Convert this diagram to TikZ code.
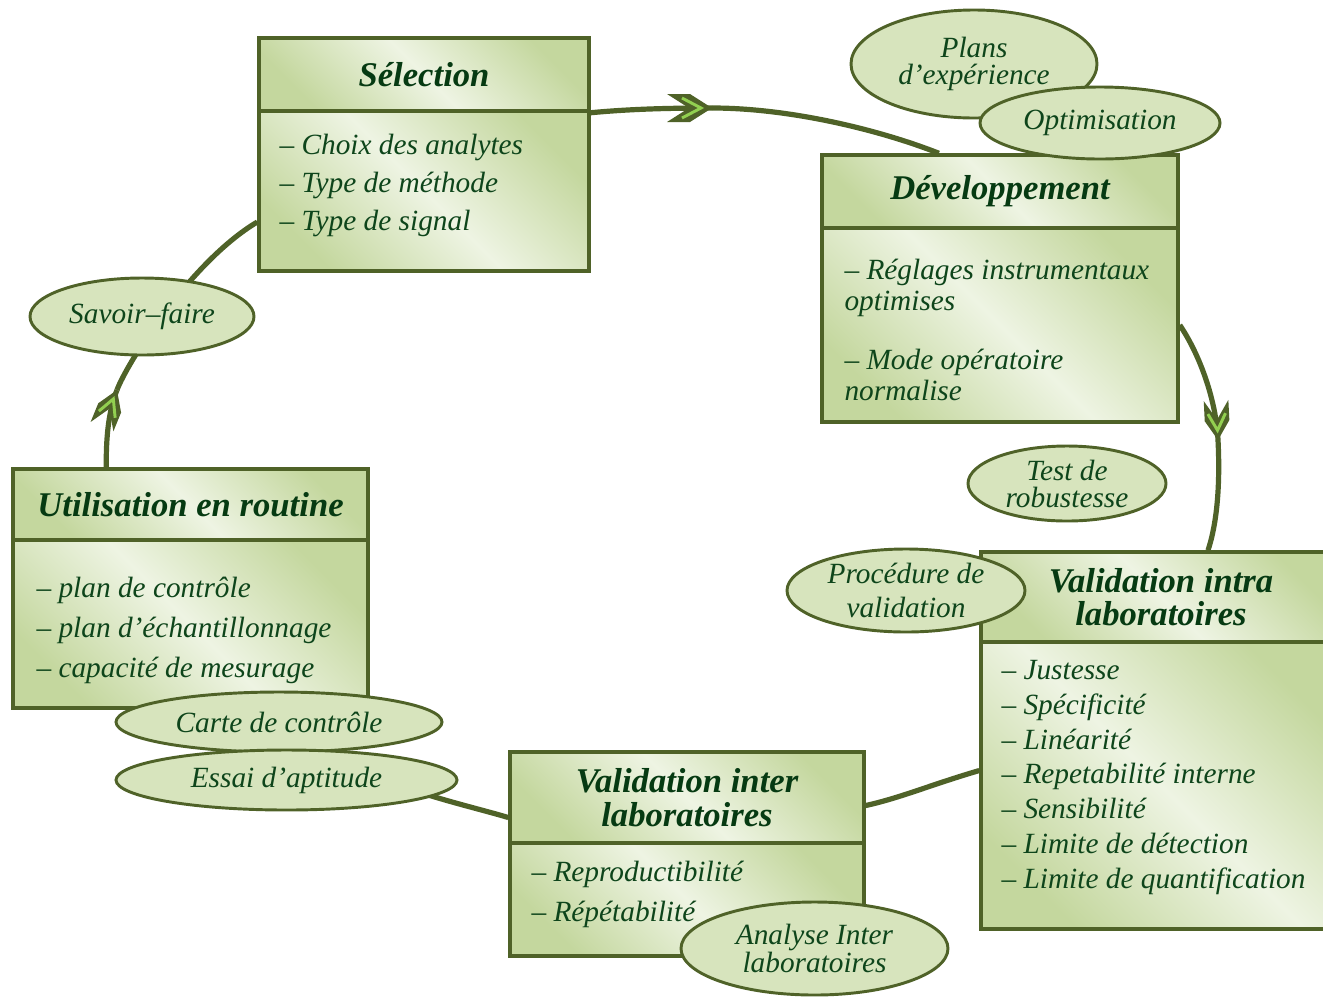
\documentclass[tikz,border=0pt]{standalone}
\usepackage{fontspec}
\setmainfont{Liberation Serif}
\usetikzlibrary{shapes.geometric,calc,decorations.markings}
\pgfdeclarelayer{bg}
\pgfsetlayers{bg,main}
\definecolor{boxline}{HTML}{4F6228}
\definecolor{gdark}{HTML}{C4D79E}
\definecolor{glight}{HTML}{EEF4E3}
\definecolor{ovalfill}{HTML}{D7E4BD}
\definecolor{txtgreen}{HTML}{0E451B}
\definecolor{ttlgreen}{HTML}{063A12}
\definecolor{chevgreen}{HTML}{92D050}
\pgfdeclarehorizontalshading{boxshade}{100bp}{color(0bp)=(gdark); color(25bp)=(gdark); color(50bp)=(glight); color(75bp)=(gdark); color(100bp)=(gdark)}
\newcommand\chevron[1]{\begin{scope}[scale=#1]
  \fill[boxline] (0,0) -- (-22,-14) -- (-45,-14) -- (-23,0) -- (-45,14) -- (-22,14) -- cycle;
  \draw[chevgreen, line width=2.2pt, line join=miter] (-30,-10) -- (-11,0) -- (-30,10);
\end{scope}}
\tikzset{
  part/.style={rectangle, draw=boxline, line width=2.6pt, shading=boxshade, shading angle=45, inner sep=0pt},
  ttl/.style={font=\fontsize{26}{25}\selectfont\bfseries\itshape, text=ttlgreen, align=center},
  bodytxt/.style={text=txtgreen, align=left, anchor=west, inner sep=0pt},
  oval/.style={ellipse, draw=boxline, line width=2.2pt, fill=ovalfill, inner sep=0pt},
  ovaltxt/.style={font=\fontsize{22}{20.25}\selectfont\itshape, text=txtgreen, align=center, inner sep=0pt},
  link/.style={draw=boxline, line width=3.9pt},
  chevbig/.style={postaction={decorate, decoration={markings, mark=at position 1 with {\chevron{1}}}}},
  chevsmall/.style={postaction={decorate, decoration={markings, mark=at position 1 with {\chevron{0.88}}}}}
}
\begin{document}
\begin{tikzpicture}[x=0.75pt, y=-0.75pt]
\useasboundingbox (0,0) rectangle (1323,997);

% ---- boxes ----
\node[part, ttl, minimum width=247.5pt, minimum height=54.75pt] (selT) at (424,74.5) {Sélection};
\node[part, minimum width=247.5pt, minimum height=120pt] (selB) at (424,191) {};
\node[part, ttl, minimum width=267pt, minimum height=54.75pt] (devT) at (1000,191.5) {Développement};
\node[part, minimum width=267pt, minimum height=145.5pt] (devB) at (1000,325) {};
\node[part, ttl, minimum width=270pt, minimum height=67.5pt] (intraT) at (1161,597) {Validation intra\\laboratoires};
\node[part, minimum width=270pt, minimum height=215.25pt] (intraB) at (1161,785.5) {};
\node[part, ttl, minimum width=265.5pt, minimum height=68.25pt] (interT) at (687,797.5) {Validation inter\\laboratoires};
\node[part, minimum width=265.5pt, minimum height=84.75pt] (interB) at (687,899.5) {};
\node[part, ttl, minimum width=266.25pt, minimum height=53.25pt] (utilT) at (190.5,504.5) {Utilisation en routine};
\node[part, minimum width=266.25pt, minimum height=126pt] (utilB) at (190.5,624) {};

% ---- body texts ----
\node[bodytxt, font=\fontsize{22}{28.5}\selectfont\itshape] (selTx) at ($(selB.west)+(22,-6)$)
  {– Choix des analytes\\– Type de méthode\\– Type de signal};
\node[bodytxt, font=\fontsize{22}{23.25}\selectfont\itshape] (devTx) at ($(devB.west)+(24,5)$)
  {– Réglages instrumentaux\\optimises\\[21pt]– Mode opératoire\\normalise};
\node[bodytxt, font=\fontsize{22}{26}\selectfont\itshape] (intraTx) at ($(intraB.west)+(22,-8)$)
  {– Justesse\\– Spécificité\\– Linéarité\\– Repetabilité interne\\– Sensibilité\\– Limite de détection\\– Limite de quantification};
\node[bodytxt, font=\fontsize{22}{30}\selectfont\itshape] (interTx) at ($(interB.west)+(23,-5)$)
  {– Reproductibilité\\– Répétabilité};
\node[bodytxt, font=\fontsize{22}{30}\selectfont\itshape] (utilTx) at ($(utilB.west)+(25,6)$)
  {– plan de contrôle\\– plan d’échantillonnage\\– capacité de mesurage};

% ---- connectors (behind the boxes) ----
\begin{pgfonlayer}{bg}
\coordinate (tip1) at (712,108);
\coordinate (devTop) at ($(devT.north west)!0.33!(devT.north east)$);
\draw[link, chevbig] (selT.south east) .. controls (630,109) and (670,108) .. (tip1);
\draw[link] (tip1) .. controls (790,108) and (880,130) .. (devTop);

\coordinate (tip2) at (1218,440);
\coordinate (intraTop) at ($(intraT.north)+(47,0)$);
\draw[link, chevsmall] (devB.east) .. controls (1200,355) and (1216,400) .. (tip2);
\draw[link] (tip2) .. controls (1220,480) and (1218,520) .. (intraTop);

\draw[link] ($(intraB.west)+(0,-15)$) .. controls (930,785) and (900,798) .. ($(interT.east)+(0,8)$);

\draw[link] ($(interT.west)+(0,20)$) .. controls (450,800) and (320,775) .. ($(utilB.south)+(100,0)$);

\coordinate (tip3) at (117,390);
\draw[link, chevsmall] ($(utilT.north west)+(95,0)$) .. controls (106,440) and (108,412) .. (tip3);
\draw[link] (tip3) .. controls (126,365) and (190,262) .. ($(selB.west)+(0,31)$);
\end{pgfonlayer}

% ---- ovals ----
\node[oval, minimum width=184.5pt, minimum height=81pt] (plans) at (974,64) {};
\node[ovaltxt] (plansTx) at (plans) {Plans\\d’expérience};
\node[oval, minimum width=180pt, minimum height=54pt] (optim) at (1100,123) {};
\node[ovaltxt] (optimTx) at (optim) {Optimisation};
\node[oval, minimum width=148.5pt, minimum height=56.25pt] (test) at (1067,483.5) {};
\node[ovaltxt] (testTx) at (test) {Test de\\robustesse};
\node[oval, minimum width=178.5pt, minimum height=62.25pt] (proc) at (906,590.5) {};
\node[ovaltxt, font=\fontsize{22}{25.5}\selectfont\itshape] (procTx) at (proc) {Procédure de\\validation};
\node[oval, minimum width=168pt, minimum height=57.75pt] (savoir) at (142,316.5) {};
\node[ovaltxt] (savoirTx) at (savoir) {Savoir–faire};
\node[oval, minimum width=244.5pt, minimum height=45pt] (carte) at (279,722) {};
\node[ovaltxt] (carteTx) at (carte) {Carte de contrôle};
\node[oval, minimum width=255.75pt, minimum height=45pt] (essai) at (286.5,780) {};
\node[ovaltxt] (essaiTx) at (essai) {Essai d’aptitude};
\node[oval, minimum width=200.25pt, minimum height=69.75pt] (analyse) at (814.5,948.5) {};
\node[ovaltxt, font=\fontsize{22}{19.5}\selectfont\itshape] (analyseTx) at (analyse) {Analyse Inter\\laboratoires};
\end{tikzpicture}
\end{document}
